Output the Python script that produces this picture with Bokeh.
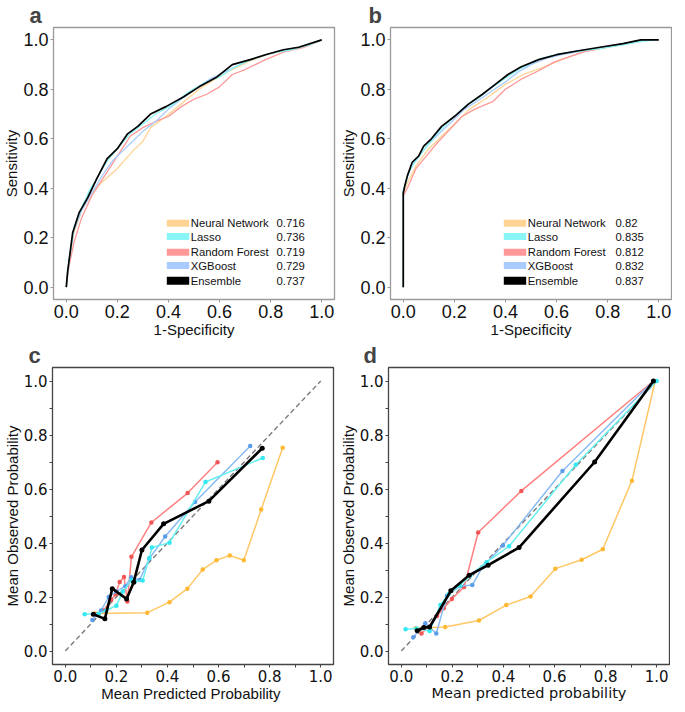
from bokeh.plotting import figure
from bokeh.models import Range1d, FixedTicker, ColumnDataSource, NumeralTickFormatter
from bokeh.layouts import row, column
from bokeh.embed import file_html
from bokeh.resources import INLINE
from bokeh.core.properties import value

# ---------------- data ----------------
models = ["Neural  Network", "Lasso", "Random Forest", "XGBoost", "Ensemble"]
auc_a = [0.716, 0.736, 0.719, 0.729, 0.737]
auc_b = [0.82, 0.835, 0.812, 0.832, 0.837]
tick_vals = [0.0, 0.2, 0.4, 0.6, 0.8, 1.0]
minor_vals = [0.1, 0.3, 0.5, 0.7, 0.9]
diag = [0.0, 1.0]

# ROC, panel a (1-specificity, sensitivity)
nn_a_x = [0, 0.01, 0.03, 0.06, 0.10, 0.135, 0.20, 0.26, 0.30, 0.33, 0.39, 0.46, 0.52, 0.58, 0.65, 0.72, 0.80, 0.88, 0.95, 1.0]
nn_a_y = [0, 0.10, 0.22, 0.31, 0.38, 0.42, 0.48, 0.55, 0.59, 0.645, 0.69, 0.75, 0.80, 0.84, 0.88, 0.915, 0.945, 0.96, 0.98, 1.0]
lasso_a_x = [0, 0.01, 0.03, 0.06, 0.09, 0.12, 0.16, 0.20, 0.25, 0.30, 0.35, 0.42, 0.48, 0.55, 0.60, 0.66, 0.72, 0.80, 0.88, 0.95, 1.0]
lasso_a_y = [0, 0.10, 0.24, 0.32, 0.39, 0.44, 0.51, 0.56, 0.62, 0.66, 0.70, 0.74, 0.79, 0.83, 0.85, 0.89, 0.92, 0.945, 0.96, 0.98, 1.0]
rf_a_x = [0, 0.01, 0.03, 0.06, 0.10, 0.15, 0.20, 0.25, 0.30, 0.35, 0.40, 0.45, 0.50, 0.55, 0.60, 0.65, 0.70, 0.78, 0.85, 0.93, 1.0]
rf_a_y = [0, 0.08, 0.18, 0.28, 0.37, 0.45, 0.53, 0.61, 0.645, 0.67, 0.69, 0.73, 0.76, 0.78, 0.81, 0.86, 0.88, 0.92, 0.95, 0.97, 1.0]
xgb_a_x = [0, 0.01, 0.03, 0.06, 0.10, 0.14, 0.18, 0.22, 0.26, 0.30, 0.35, 0.40, 0.45, 0.50, 0.56, 0.62, 0.70, 0.78, 0.86, 0.93, 1.0]
xgb_a_y = [0, 0.10, 0.23, 0.31, 0.38, 0.45, 0.51, 0.55, 0.59, 0.63, 0.67, 0.72, 0.76, 0.80, 0.84, 0.87, 0.91, 0.94, 0.96, 0.975, 1.0]
ens_a_x = [0, 0.005, 0.025, 0.05, 0.083, 0.12, 0.16, 0.20, 0.24, 0.28, 0.33, 0.39, 0.46, 0.52, 0.59, 0.65, 0.72, 0.78, 0.85, 0.91, 1.0]
ens_a_y = [0, 0.06, 0.22, 0.30, 0.36, 0.44, 0.52, 0.56, 0.62, 0.65, 0.70, 0.73, 0.77, 0.81, 0.85, 0.90, 0.92, 0.94, 0.96, 0.97, 1.0]

# ROC, panel b
nn_b_x = [0, 0, 0.02, 0.05, 0.10, 0.15, 0.20, 0.26, 0.32, 0.40, 0.47, 0.55, 0.62, 0.70, 0.80, 0.90, 0.94, 1.0]
nn_b_y = [0, 0.38, 0.43, 0.49, 0.56, 0.61, 0.66, 0.72, 0.76, 0.82, 0.86, 0.89, 0.92, 0.95, 0.97, 0.99, 1.0, 1.0]
lasso_b_x = [0, 0, 0.01, 0.02, 0.04, 0.07, 0.10, 0.14, 0.19, 0.24, 0.30, 0.35, 0.40, 0.46, 0.54, 0.60, 0.68, 0.77, 0.86, 0.94, 1.0]
lasso_b_y = [0, 0.39, 0.42, 0.46, 0.50, 0.54, 0.58, 0.63, 0.68, 0.73, 0.77, 0.81, 0.845, 0.885, 0.925, 0.94, 0.955, 0.965, 0.98, 0.995, 1.0]
rf_b_x = [0, 0, 0.016, 0.05, 0.09, 0.13, 0.18, 0.23, 0.28, 0.35, 0.40, 0.46, 0.53, 0.59, 0.66, 0.72, 0.84, 0.94, 1.0]
rf_b_y = [0, 0.37, 0.40, 0.48, 0.53, 0.58, 0.635, 0.69, 0.72, 0.75, 0.80, 0.84, 0.875, 0.91, 0.935, 0.955, 0.98, 1.0, 1.0]
xgb_b_x = [0, 0, 0.01, 0.02, 0.04, 0.07, 0.10, 0.14, 0.19, 0.24, 0.30, 0.35, 0.40, 0.45, 0.50, 0.56, 0.62, 0.70, 0.78, 0.87, 0.94, 1.0]
xgb_b_y = [0, 0.39, 0.42, 0.46, 0.50, 0.54, 0.58, 0.62, 0.67, 0.72, 0.76, 0.795, 0.83, 0.87, 0.90, 0.925, 0.94, 0.955, 0.97, 0.985, 1.0, 1.0]
ens_b_x = [0, 0, 0.006, 0.016, 0.035, 0.06, 0.08, 0.11, 0.15, 0.20, 0.255, 0.31, 0.36, 0.41, 0.46, 0.53, 0.60, 0.68, 0.77, 0.86, 0.93, 1.0]
ens_b_y = [0, 0.38, 0.41, 0.45, 0.505, 0.53, 0.57, 0.60, 0.65, 0.69, 0.74, 0.78, 0.82, 0.86, 0.89, 0.92, 0.94, 0.955, 0.97, 0.985, 1.0, 1.0]

# Calibration, panel c
nn_c_x = [0.117, 0.321, 0.408, 0.478, 0.538, 0.592, 0.644, 0.699, 0.767, 0.851]
nn_c_y = [0.139, 0.142, 0.181, 0.231, 0.302, 0.336, 0.354, 0.336, 0.524, 0.753]
rf_c_x = [0.12, 0.15, 0.18, 0.197, 0.213, 0.230, 0.243, 0.259, 0.337, 0.479, 0.596]
rf_c_y = [0.135, 0.15, 0.19, 0.21, 0.256, 0.274, 0.183, 0.349, 0.476, 0.585, 0.699]
lasso_c_x = [0.076, 0.13, 0.16, 0.20, 0.225, 0.26, 0.272, 0.303, 0.329, 0.339, 0.408, 0.549, 0.773]
lasso_c_y = [0.136, 0.138, 0.15, 0.168, 0.22, 0.262, 0.257, 0.261, 0.344, 0.383, 0.401, 0.626, 0.715]
xgb_c_x = [0.106, 0.14, 0.17, 0.20, 0.235, 0.258, 0.291, 0.329, 0.391, 0.508, 0.724]
xgb_c_y = [0.115, 0.15, 0.20, 0.22, 0.24, 0.273, 0.263, 0.342, 0.424, 0.552, 0.759]
ens_c_x = [0.110, 0.155, 0.184, 0.240, 0.268, 0.300, 0.385, 0.562, 0.771]
ens_c_y = [0.136, 0.119, 0.231, 0.193, 0.255, 0.374, 0.471, 0.555, 0.751]

# Calibration, panel d
nn_d_x = [0.056, 0.172, 0.304, 0.411, 0.506, 0.603, 0.706, 0.789, 0.903, 0.994]
nn_d_y = [0.084, 0.089, 0.113, 0.170, 0.202, 0.305, 0.338, 0.377, 0.631, 1.0]
rf_d_x = [0.079, 0.107, 0.14, 0.166, 0.198, 0.246, 0.301, 0.47, 0.987]
rf_d_y = [0.065, 0.089, 0.13, 0.158, 0.193, 0.237, 0.439, 0.593, 1.0]
lasso_d_x = [0.017, 0.06, 0.111, 0.153, 0.185, 0.23, 0.27, 0.334, 0.422, 0.683, 1.0]
lasso_d_y = [0.081, 0.083, 0.074, 0.17, 0.21, 0.243, 0.28, 0.329, 0.388, 0.690, 1.0]
xgb_d_x = [0.047, 0.094, 0.137, 0.179, 0.23, 0.278, 0.317, 0.398, 0.631, 0.987]
xgb_d_y = [0.051, 0.103, 0.065, 0.205, 0.24, 0.244, 0.31, 0.391, 0.667, 1.0]
ens_d_x = [0.062, 0.088, 0.111, 0.194, 0.266, 0.340, 0.461, 0.757, 0.987]
ens_d_y = [0.075, 0.087, 0.089, 0.223, 0.281, 0.318, 0.383, 0.700, 1.0]

# ---------------- styles / layout ----------------
roc_color = {"nn": "#FFD494", "lasso": "#8AF5F5", "rf": "#FF9898", "xgb": "#A8CCFF", "ens": "#000000"}
cal_line = {"nn": "#FFC766", "lasso": "#66F0F0", "rf": "#FF8080", "xgb": "#88BBF5", "ens": "#000000"}
cal_mark = {"nn": "#FFB833", "lasso": "#33E8F0", "rf": "#F25555", "xgb": "#5A9DEB", "ens": "#000000"}
legend_keys = ["nn", "lasso", "rf", "xgb", "ens"]
draw_order = ["nn", "rf", "xgb", "lasso", "ens"]
LO, HI = -0.05, 1.05
ARIAL = "Liberation Sans"
DEJAVU = "DejaVu Sans"
FW = 281          # frame width (px)
FH_TOP = 272      # frame height, ROC row
FH_BOT = 297      # frame height, calibration row


def make_fig(fh, L, R, outline, tick_font, tick_size, with_minor, letter, letter_offset,
             xlabel, ylabel, xlab_font, xlab_size):
    p = figure(frame_width=FW, frame_height=fh, x_range=Range1d(LO, HI), y_range=Range1d(LO, HI),
               output_backend="svg", toolbar_location=None,
               min_border_left=L, min_border_right=R, min_border_top=0, min_border_bottom=0,
               background_fill_color="white", border_fill_color="white")
    p.grid.visible = False
    p.outline_line_color = outline
    p.outline_line_width = 1.3
    p.title.text = letter
    p.title.text_font = ARIAL
    p.title.text_font_size = "22px"
    p.title.text_font_style = "bold"
    p.title.align = "left"
    p.title.offset = letter_offset
    p.title.standoff = 0
    for ax in (p.xaxis[0], p.yaxis[0]):
        ax.ticker = FixedTicker(ticks=tick_vals, minor_ticks=minor_vals if with_minor else [])
        ax.formatter = NumeralTickFormatter(format="0.0")
        ax.axis_line_color = None
        ax.major_tick_out = 3
        ax.major_tick_in = 0
        ax.minor_tick_out = 3 if with_minor else 0
        ax.minor_tick_in = 0
        ax.major_tick_line_color = outline
        ax.minor_tick_line_color = outline
        ax.major_label_text_font = tick_font
        ax.major_label_text_font_size = f"{tick_size}px"
        ax.major_label_standoff = 2
        ax.major_label_text_color = "#111111"
        ax.axis_label_text_font = ARIAL
        ax.axis_label_text_font_size = "15px"
        ax.axis_label_text_font_style = "normal"
        ax.axis_label_text_color = "#111111"
        ax.axis_label_standoff = 0
    p.xaxis.axis_label_text_font = xlab_font
    p.xaxis.axis_label_text_font_size = f"{xlab_size}px"
    p.xaxis.axis_label = xlabel
    p.yaxis.axis_label = ylabel
    return p


def roc_panel(L, R, series, aucs, letter, letter_offset, val_from_right):
    fh = FH_TOP
    p = make_fig(fh, L, R, "#9a9a9a", ARIAL, 18, False, letter, letter_offset,
                 "1-Specificity", "Sensitivity", ARIAL, 15)
    for k in draw_order:
        xs, ys = series[k]
        p.line(xs, ys, line_color=roc_color[k], line_width=1.7 if k == "ens" else 1.3)
    # legend placed by pixel offsets from the frame's bottom-right corner
    ppx = FW / (HI - LO)
    ppy = fh / (HI - LO)
    rows_px = [76.3, 63, 47.3, 34, 18.7]
    rows_y = [LO + r / ppy for r in rows_px]
    sw0 = HI - 167.7 / ppx
    sw1 = HI - 145.3 / ppx
    nx = HI - 143.7 / ppx
    vx = HI - val_from_right / ppx
    src = ColumnDataSource(dict(x0=[sw0] * 5, x1=[sw1] * 5, y=rows_y,
                                c=[roc_color[k] for k in legend_keys], lw=[7, 7, 7, 7, 8],
                                name=models, val=[str(v) for v in aucs],
                                nx=[nx] * 5, vx=[vx] * 5))
    p.segment(x0="x0", y0="y", x1="x1", y1="y", line_color="c", line_width="lw", line_cap="butt", source=src)
    p.text(x="nx", y="y", text="name", text_font=value(ARIAL), text_font_size="11.3px",
           text_baseline="middle", text_color="#111111", source=src)
    p.text(x="vx", y="y", text="val", text_font=value(ARIAL), text_font_size="11.3px",
           text_baseline="middle", text_color="#111111", source=src)
    return p


def cal_panel(L, R, series, letter, letter_offset, xlabel, xlab_font, xlab_size):
    p = make_fig(FH_BOT, L, R, "#444444", DEJAVU, 15, True, letter, letter_offset,
                 xlabel, "Mean Observed Probability", xlab_font, xlab_size)
    p.line(diag, diag, line_color="#7a7a7a", line_width=1.4, line_dash="5 3")
    for k in draw_order:
        xs, ys = series[k]
        black = k == "ens"
        p.line(xs, ys, line_color=cal_line[k], line_width=2.6 if black else 1.5)
        p.scatter(xs, ys, marker="circle", size=5 if black else 4.5, fill_color=cal_mark[k], line_color=None)
    return p


pa = roc_panel(44, 3,
               {"nn": (nn_a_x, nn_a_y), "lasso": (lasso_a_x, lasso_a_y), "rf": (rf_a_x, rf_a_y),
                "xgb": (xgb_a_x, xgb_a_y), "ens": (ens_a_x, ens_a_y)},
               auc_a, "a", -24, 58)
pb = roc_panel(52, 1,
               {"nn": (nn_b_x, nn_b_y), "lasso": (lasso_b_x, lasso_b_y), "rf": (rf_b_x, rf_b_y),
                "xgb": (xgb_b_x, xgb_b_y), "ens": (ens_b_x, ens_b_y)},
               auc_b, "b", -22, 56)
pc = cal_panel(44, 3,
               {"nn": (nn_c_x, nn_c_y), "lasso": (lasso_c_x, lasso_c_y), "rf": (rf_c_x, rf_c_y),
                "xgb": (xgb_c_x, xgb_c_y), "ens": (ens_c_x, ens_c_y)},
               "c", -24, "Mean  Predicted Probability", ARIAL, 15)
pd_ = cal_panel(52, 1,
                {"nn": (nn_d_x, nn_d_y), "lasso": (lasso_d_x, lasso_d_y), "rf": (rf_d_x, rf_d_y),
                 "xgb": (xgb_d_x, xgb_d_y), "ens": (ens_d_x, ens_d_y)},
                "d", -25, "Mean predicted probability", DEJAVU, 14.5)

layout = column(row(pa, pb), row(pc, pd_))
open("out.html", "w").write(file_html(layout, INLINE))
